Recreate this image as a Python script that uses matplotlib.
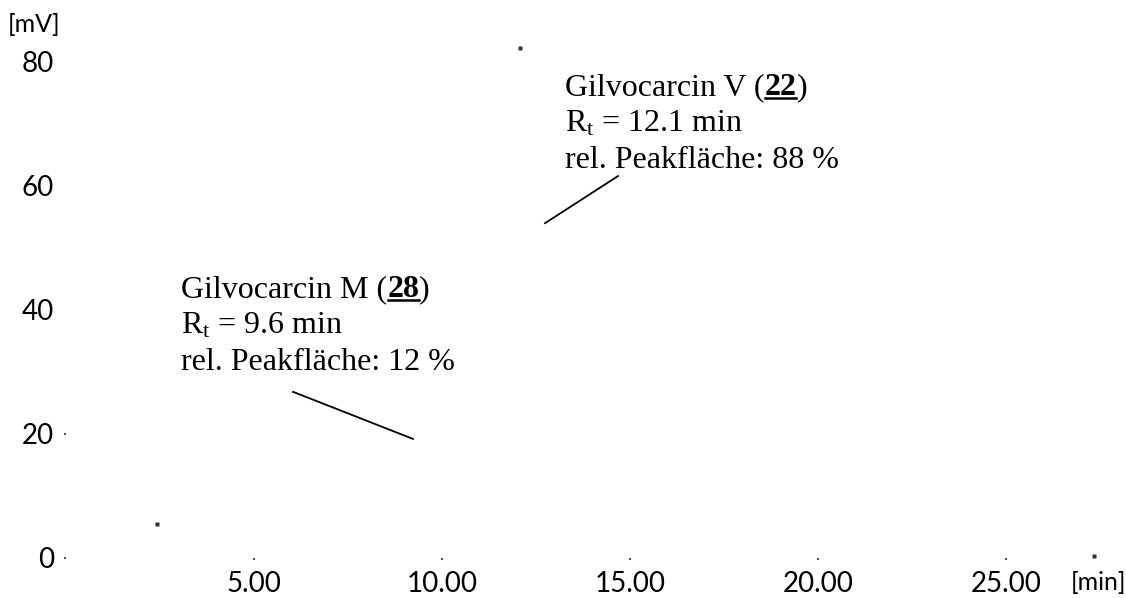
import matplotlib
matplotlib.use("Agg")
import matplotlib.pyplot as plt
from matplotlib.transforms import IdentityTransform
from matplotlib.lines import Line2D

# Chromatogram samples (retention time in min, detector signal in mV)
time_min = [2.42, 12.07, 27.34]
signal_mv = [5.5, 82.3, 0.3]

x_ticks = [5, 10, 15, 20, 25]
y_ticks = [0, 20, 40, 60, 80]

# Peak annotations: label lines, compound number, text anchor and leader line
peak_names = ["Gilvocarcin M", "Gilvocarcin V"]
peak_numbers = ["28", "22"]
peak_rt = [9.6, 12.1]
peak_area = [12, 88]
text_anchor = [(3.06, 42.1), (13.28, 74.7)]
leader_start = [(6.04, 26.8), (14.68, 61.6)]
leader_end = [(9.23, 19.2), (12.74, 54.0)]

plt.rcParams["mathtext.fontset"] = "custom"
plt.rcParams["mathtext.rm"] = "Liberation Serif"
plt.rcParams["mathtext.it"] = "Liberation Serif:italic"
plt.rcParams["mathtext.bf"] = "Liberation Serif:bold"

W, H = 1126, 598
fig = plt.figure(figsize=(W / 100, H / 100), dpi=100)
x0, x1 = 66, 1100
y0, y1 = 558, 31
ax = fig.add_axes([x0 / W, (H - y0) / H, (x1 - x0) / W, (y0 - y1) / H])
ax.set_xlim(0, 27.5)
ax.set_ylim(0, 85)
for s in ax.spines.values():
    s.set_visible(False)

ax.plot(time_min, signal_mv, ls="none", marker="s", ms=2.2, mec="none", color="#333333")

sans = "Lato"
ax.set_xticks(x_ticks)
ax.set_xticklabels([f"{v:.2f}" for v in x_ticks], family=sans)
ax.set_yticks(y_ticks)
ax.set_yticklabels([str(v) for v in y_ticks], family=sans)
ax.tick_params(axis="both", direction="out", length=1.6, width=1.6, color="#555555",
               labelsize=20, labelcolor="black")
ax.tick_params(axis="x", pad=7.5)
ax.tick_params(axis="y", pad=7)
for tk in ax.yaxis.get_major_ticks()[2:]:
    tk.tick1line.set_visible(False)

fig.text(8 / W, 1 - 25 / H, "[mV]", fontsize=18, family=sans, va="center", ha="left")
fig.text(1126 / W, 1 - 582 / H, "[min]", fontsize=18, family=sans, va="center", ha="right")

serif = dict(fontsize=23, family="Liberation Serif", va="baseline", ha="left")
line_gap = 5.9
renderer = fig.canvas.get_renderer()
for i in range(len(peak_names)):
    tx, ty = text_anchor[i]
    # first line: name, bold underlined compound number in parentheses
    px, py = ax.transData.transform((tx, ty))
    t1 = fig.text(px, py, f"{peak_names[i]} (", transform=IdentityTransform(), **serif)
    bx = t1.get_window_extent(renderer).x1
    t2 = fig.text(bx, py, peak_numbers[i], transform=IdentityTransform(),
                  fontweight="bold", **serif)
    e2 = t2.get_window_extent(renderer)
    fig.text(e2.x1, py, ")", transform=IdentityTransform(), **serif)
    fig.add_artist(Line2D([e2.x0 + 0.5, e2.x1 - 0.5], [py - 3.5, py - 3.5],
                          transform=IdentityTransform(), color="black", lw=1.8))
    ax.text(tx, ty - line_gap, rf"R$_\mathrm{{t}}$ = {peak_rt[i]} min", **serif)
    ax.text(tx, ty - 2 * line_gap, f"rel. Peakfläche: {peak_area[i]} %", **serif)
    (sx, sy), (ex, ey) = leader_start[i], leader_end[i]
    ax.plot([sx, ex], [sy, ey], color="black", lw=1.3)

fig.savefig("out.png", dpi=100)
